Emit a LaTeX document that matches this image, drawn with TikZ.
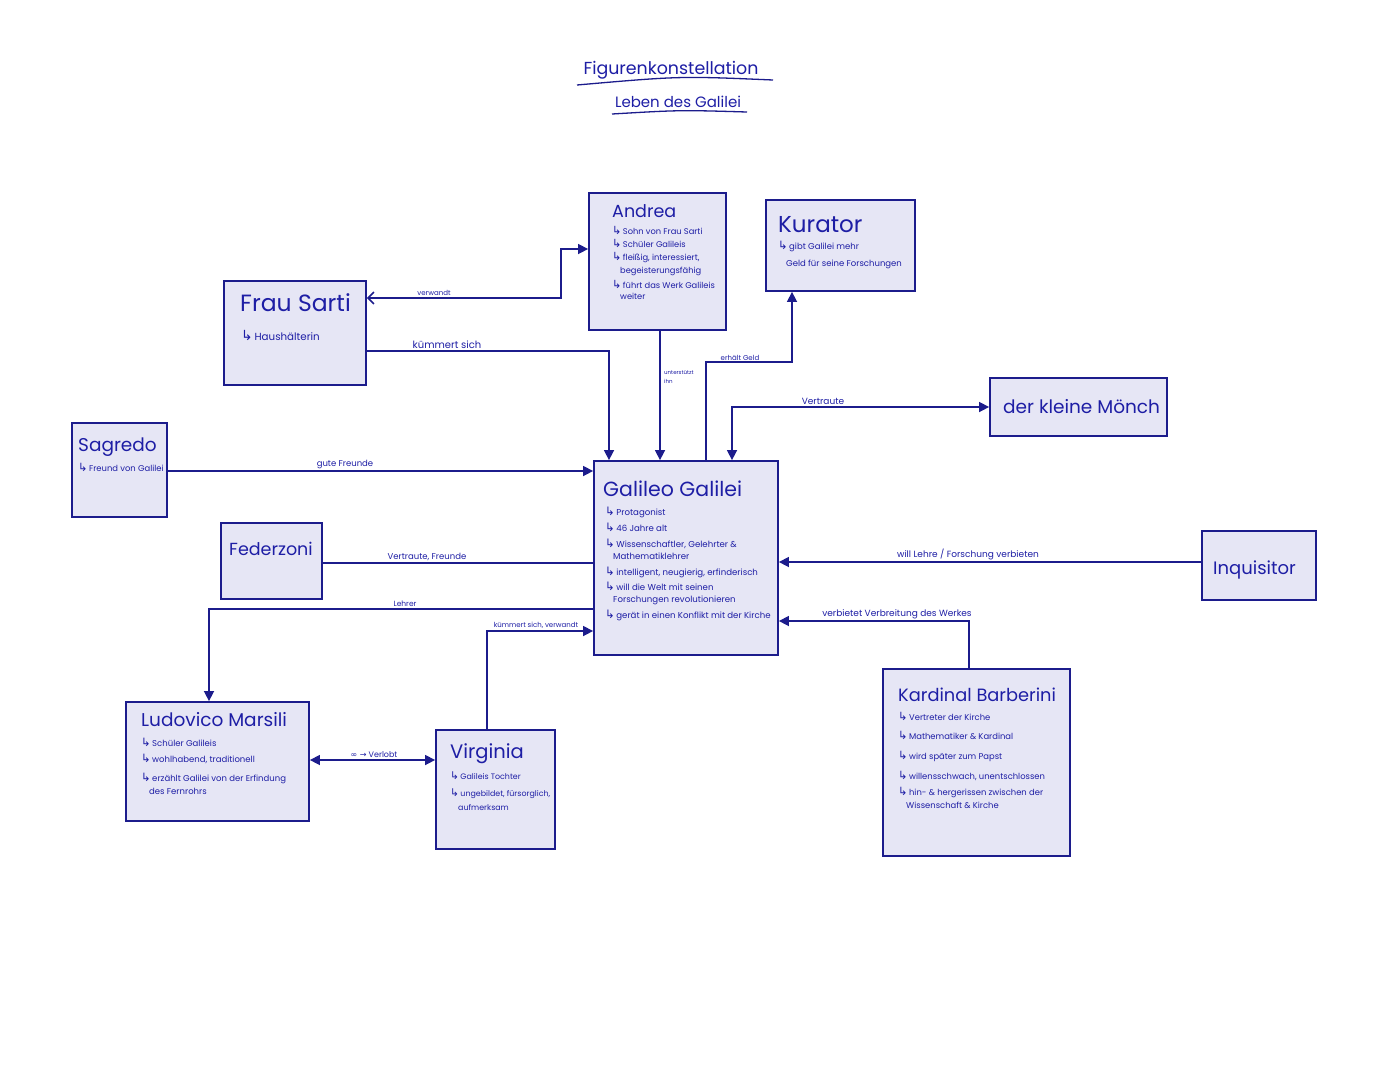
\documentclass[tikz,border=0pt]{standalone}
\usepackage{fontspec}
\usepackage{graphicx}
\setmainfont{Poppins}
\newfontfamily\symf{DejaVu Sans}
\usetikzlibrary{arrows.meta}
\definecolor{ink}{RGB}{28,28,140}
\definecolor{txt}{RGB}{30,30,165}
\definecolor{boxfill}{RGB}{230,230,245}
\newcommand{\ar}{\scalebox{1.35}{\symf ↳}\,}
\newcommand{\ind}{\hspace*{8pt}}
\begin{document}
\begin{tikzpicture}[x=1pt,y=-1pt,
  box/.style={draw=ink, fill=boxfill, line width=1.8pt, inner sep=0pt},
  ttl/.style={text=txt, anchor=base west, inner sep=0pt},
  body/.style={text=txt, anchor=north west, inner sep=0pt, align=left},
  conn/.style={draw=ink, line width=1.5pt},
  lbl/.style={text=txt, inner sep=0pt, anchor=south, font=\fontsize{7}{8}\selectfont},
  >={Triangle[length=10pt,width=10pt]}
]
\useasboundingbox (0,0) rectangle (1394,1080);
\fill[white] (0,0) rectangle (1394,1080);

% title
\node[text=txt, inner sep=0pt, font=\fontsize{17.4}{20}\selectfont] (title) at (671,70) {Figurenkonstellation};
\node[text=txt, inner sep=0pt, font=\fontsize{15}{18}\selectfont] (subtitle) at (678,102) {Leben des Galilei};
\draw[ink, line width=1.3pt] (577,85) .. controls (680,76) .. (773,80);
\draw[ink, line width=1.3pt] (612,114) .. controls (680,110) .. (747,112);

% boxes
\node[box, minimum width=137, minimum height=137] (andrea) at (657.5,261.5) {};
\node[box, minimum width=149, minimum height=91] (kurator) at (840.5,245.5) {};
\node[box, minimum width=142, minimum height=104] (sarti) at (295,333) {};
\node[box, minimum width=95, minimum height=94] (sagredo) at (119.5,470) {};
\node[box, minimum width=177, minimum height=58] (moench) at (1078.5,407) {};
\node[box, minimum width=184, minimum height=194] (galileo) at (686,558) {};
\node[box, minimum width=101, minimum height=76] (federzoni) at (271.5,561) {};
\node[box, minimum width=114, minimum height=69] (inquisitor) at (1259,565.5) {};
\node[box, minimum width=183, minimum height=119] (ludovico) at (217.5,761.5) {};
\node[box, minimum width=119, minimum height=119] (virginia) at (495.5,789.5) {};
\node[box, minimum width=187, minimum height=187] (barberini) at (976.5,762.5) {};

% titles
\node[ttl, font=\fontsize{17.5}{20}\selectfont] (andreaT) at (612,217) {Andrea};
\node[ttl, font=\fontsize{23}{26}\selectfont] (kuratorT) at (778,232) {Kurator};
\node[ttl, font=\fontsize{23.5}{26}\selectfont] (sartiT) at (240,311) {Frau Sarti};
\node[ttl, font=\fontsize{18.5}{22}\selectfont] (sagredoT) at (78,451) {Sagredo};
\node[ttl, font=\fontsize{18.5}{22}\selectfont] (moenchT) at (1003,413) {der kleine Mönch};
\node[ttl, font=\fontsize{20.5}{24}\selectfont] (galileoT) at (603,496) {Galileo Galilei};
\node[ttl, font=\fontsize{17.5}{20}\selectfont] (federzoniT) at (229,555) {Federzoni};
\node[ttl, font=\fontsize{18}{20}\selectfont] (inquisitorT) at (1213,574) {Inquisitor};
\node[ttl, font=\fontsize{18.5}{22}\selectfont] (ludovicoT) at (141,726) {Ludovico Marsili};
\node[ttl, font=\fontsize{19.5}{22}\selectfont] (virginiaT) at (450,758) {Virginia};
\node[ttl, font=\fontsize{17.8}{20}\selectfont] (barberiniT) at (898,701) {Kardinal Barberini};

% bodies
\node[body, font=\fontsize{8.3}{13}\selectfont] (andreaB) at (612,226)
  {\ar Sohn von Frau Sarti\\ \ar Schüler Galileis\\ \ar fleißig, interessiert,\\ \ind begeisterungsfähig\\[2pt] \ar führt das Werk Galileis\\[-2pt] \ind weiter};
\node[body, font=\fontsize{8.5}{17}\selectfont] (kuratorB) at (778,241)
  {\ar gibt Galilei mehr\\ \ind Geld für seine Forschungen};
\node[body, font=\fontsize{10.3}{12}\selectfont] (sartiB) at (241,330) {\ar Haushälterin};
\node[body, font=\fontsize{8.4}{10}\selectfont] (sagredoB) at (78,463) {\ar Freund von Galilei};
\node[body, font=\fontsize{8.6}{12}\selectfont] (galileoB) at (605,506.5)
  {\ar Protagonist\\[4pt] \ar 46 Jahre alt\\[4pt] \ar Wissenschaftler, Gelehrter \&\\ \ind Mathematiklehrer\\[4pt] \ar intelligent, neugierig, erfinderisch\\[3pt] \ar will die Welt mit seinen\\ \ind Forschungen revolutionieren\\[4pt] \ar gerät in einen Konflikt mit der Kirche};
\node[body, font=\fontsize{8.5}{13}\selectfont] (ludovicoB) at (141,737.5)
  {\ar Schüler Galileis\\[3pt] \ar wohlhabend, traditionell\\[6pt] \ar erzählt Galilei von der Erfindung\\ \ind des Fernrohrs};
\node[body, font=\fontsize{7.9}{14}\selectfont] (virginiaB) at (450,771.5)
  {\ar Galileis Tochter\\[3pt] \ar ungebildet, fürsorglich,\\ \ind aufmerksam};
\node[body, font=\fontsize{8.4}{13}\selectfont] (barberiniB) at (898,712)
  {\ar Vertreter der Kirche\\[6pt] \ar Mathematiker \& Kardinal\\[7pt] \ar wird später zum Papst\\[7pt] \ar willensschwach, unentschlossen\\[3pt] \ar hin- \& hergerissen zwischen der\\ \ind Wissenschaft \& Kirche};

% connectors
\draw[conn, {Triangle[length=10pt,width=10pt]}-{Straight Barb[length=6pt,width=12pt]}]
  ([yshift=12.5pt]andrea.west) -- ++(-27,0) |- ([yshift=35pt]sarti.east);
\draw[conn, ->] ([yshift=-18pt]sarti.east) -| ([xshift=-77pt]galileo.north);
\draw[conn, ->] ([xshift=2.5pt]andrea.south) -- ([xshift=-26pt]galileo.north);
\draw[conn, ->] ([xshift=20pt]galileo.north) -- ++(0,-98) -| ([xshift=-48.5pt]kurator.south);
\draw[conn, <->] ([xshift=46pt]galileo.north) |- (moench.west);
\draw[conn, ->] ([yshift=-1pt]sagredo.east) -- ([yshift=87pt]galileo.west);
\draw[conn] ([yshift=-2pt]federzoni.east) -- ([yshift=-5pt]galileo.west);
\draw[conn, ->] ([yshift=3.5pt]inquisitor.west) -- ([yshift=-4pt]galileo.east);
\draw[conn, ->] ([yshift=-51pt]galileo.west) -| ([xshift=-8.5pt]ludovico.north);
\draw[conn, ->] ([xshift=-8.5pt]virginia.north) |- ([yshift=-73pt]galileo.west);
\draw[conn, ->] ([xshift=-7.5pt]barberini.north) |- ([yshift=-63pt]galileo.east);
\draw[conn, <->] ([yshift=1.5pt]ludovico.east) -- ([yshift=29.5pt]virginia.west);

% labels
\node[lbl] (l1) at (434,296) {verwandt};
\node[lbl, font=\fontsize{10}{12}\selectfont] (l2) at (447,349) {kümmert sich};
\node[text=txt, inner sep=0pt, anchor=north west, align=left, font=\fontsize{5.5}{9}\selectfont] (l3) at (664,370) {unterstützt\\ihn};
\node[lbl, font=\fontsize{7}{8}\selectfont] (l4) at (740,361) {erhält Geld};
\node[lbl, font=\fontsize{9}{10}\selectfont] (l5) at (823,405) {Vertraute};
\node[lbl, font=\fontsize{8.5}{10}\selectfont] (l6) at (345,469) {gute Freunde};
\node[lbl, font=\fontsize{8.5}{10}\selectfont] (l7) at (427,561) {Vertraute, Freunde};
\node[lbl, font=\fontsize{9}{10}\selectfont] (l8) at (968,560) {will Lehre / Forschung verbieten};
\node[lbl, font=\fontsize{7.5}{8}\selectfont] (l9) at (405,607) {Lehrer};
\node[lbl, font=\fontsize{7}{8}\selectfont] (l10) at (536,629) {kümmert sich, verwandt};
\node[lbl, font=\fontsize{9}{10}\selectfont] (l11) at (897,619) {verbietet Verbreitung des Werkes};
\node[lbl, font=\fontsize{8}{9}\selectfont] (l12) at (374,758) {{\symf ∞ →} Verlobt};
\end{tikzpicture}
\end{document}
